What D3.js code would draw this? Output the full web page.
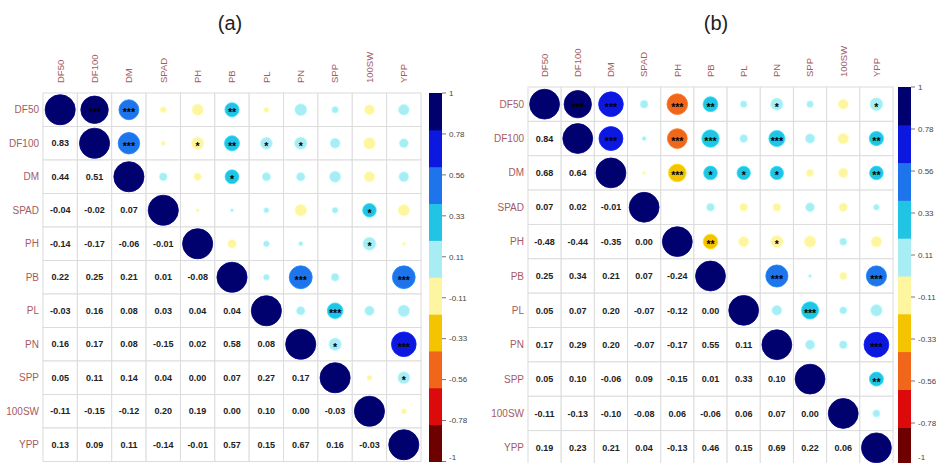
<!DOCTYPE html>
<html><head><meta charset="utf-8">
<script src="https://cdn.jsdelivr.net/npm/d3@7"></script>
<style>body{margin:0;background:#fff}svg{display:block}text{font-family:"Liberation Sans",Arial,sans-serif}</style>
</head><body><svg id="c" width="936" height="463"></svg>
<script>
const vars = ["DF50","DF100","DM","SPAD","PH","PB","PL","PN","SPP","100SW","YPP"];
// lower-triangle correlation coefficients (row i, columns 0..i-1)
const lowerA = [
  [],
  [0.83],
  [0.44,0.51],
  [-0.04,-0.02,0.07],
  [-0.14,-0.17,-0.06,-0.01],
  [0.22,0.25,0.21,0.01,-0.08],
  [-0.03,0.16,0.08,0.03,0.04,0.04],
  [0.16,0.17,0.08,-0.15,0.02,0.58,0.08],
  [0.05,0.11,0.14,0.04,0.00,0.07,0.27,0.17],
  [-0.11,-0.15,-0.12,0.20,0.19,0.00,0.10,0.00,-0.03],
  [0.13,0.09,0.11,-0.14,-0.01,0.57,0.15,0.67,0.16,-0.03]
];
const lowerB = [
  [],
  [0.84],
  [0.68,0.64],
  [0.07,0.02,-0.01],
  [-0.48,-0.44,-0.35,0.00],
  [0.25,0.34,0.21,0.07,-0.24],
  [0.05,0.07,0.20,-0.07,-0.12,0.00],
  [0.17,0.29,0.20,-0.07,-0.17,0.55,0.11],
  [0.05,0.10,-0.06,0.09,-0.15,0.01,0.33,0.10],
  [-0.11,-0.13,-0.10,-0.08,0.06,-0.06,0.06,0.07,0.00],
  [0.19,0.23,0.21,0.04,-0.13,0.46,0.15,0.69,0.22,0.06]
];
// significance stars in the upper triangle (row i, columns i+1..10)
const starsA = [
  [3,3,0,0,2,0,0,0,0,0],
  [3,0,1,2,1,1,0,0,0],
  [0,0,1,0,0,0,0,0],
  [0,0,0,0,0,1,0],
  [0,0,0,0,1,0],
  [0,3,0,0,3],
  [0,3,0,0],
  [1,0,3],
  [0,1],
  [0]
];
const starsB = [
  [3,3,0,3,2,0,1,0,0,1],
  [3,0,3,3,0,3,0,0,2],
  [0,3,1,1,1,0,0,2],
  [0,0,0,0,0,0,0],
  [2,0,1,0,0,0],
  [0,3,0,0,3],
  [0,3,0,0],
  [0,0,3],
  [0,2],
  [0]
];
const legendTicks = ["1","0.78","0.56","0.33","0.11","-0.11","-0.33","-0.56","-0.78","-1"];
const bandColors = ["#6e0000","#dc0a0a","#f0661a","#f5c400","#fdf5a0","#a8ecf4","#22c4e4","#1e74ea","#0c18e0","#00006e"];
const titles = ["(a)","(b)"];

const color = d3.scaleThreshold().domain([-0.8,-0.6,-0.4,-0.2,0,0.2,0.4,0.6,0.8]).range(bandColors);
const svg = d3.select("#c");
const labCol = "#a65a5e";

const panels = [
  {lower: lowerA, stars: starsA, x0: 43, y0: 93, w: 378, h: 368.5, bx: 429, tx: 230},
  {lower: lowerB, stars: starsB, x0: 528, y0: 87, w: 365, h: 378, bx: 898, tx: 716}
];

panels.forEach((p, pi) => {
  const g = svg.append("g");
  const x = d3.scaleBand().domain(vars).range([p.x0, p.x0 + p.w]);
  const y = d3.scaleBand().domain(vars).range([p.y0, p.y0 + p.h]);
  const cw = x.bandwidth(), ch = y.bandwidth();
  const rmax = 0.45 * Math.min(cw, ch);
  const rScale = d3.scaleSqrt().domain([0, 1]).range([0, rmax]);

  const cells = [];
  vars.forEach((ri, i) => vars.forEach((cj, j) => {
    let v, type, st = 0;
    if (i === j) { v = 1; type = "circle"; }
    else if (j < i) { v = p.lower[i][j]; type = "num"; }
    else { v = p.lower[j][i]; type = "circle"; st = p.stars[i][j - i - 1]; }
    cells.push({r: ri, c: cj, v, type, st});
  }));

  g.selectAll("rect.cell").data(cells).join("rect")
    .attr("x", d => x(d.c)).attr("y", d => y(d.r))
    .attr("width", cw).attr("height", ch)
    .attr("fill", "#fff").attr("stroke", "#dcdcdc").attr("stroke-width", 1);

  const circ = cells.filter(d => d.type === "circle" && Math.abs(d.v) > 0);
  g.selectAll("circle.c").data(circ).join("circle")
    .attr("cx", d => x(d.c) + cw / 2).attr("cy", d => y(d.r) + ch / 2)
    .attr("r", d => rScale(Math.abs(d.v)))
    .attr("fill", d => color(d.v))
    .attr("stroke", d => d3.color(color(d.v)).brighter(0.4)).attr("stroke-width", 0.8);

  g.selectAll("text.st").data(circ.filter(d => d.st > 0)).join("text")
    .attr("x", d => x(d.c) + cw / 2).attr("y", d => y(d.r) + ch / 2)
    .attr("dy", "0.62em").attr("text-anchor", "middle")
    .attr("font-size", 10.5).attr("font-weight", "bold").attr("fill", "#000")
    .text(d => "*".repeat(d.st));

  g.selectAll("text.num").data(cells.filter(d => d.type === "num")).join("text")
    .attr("x", d => x(d.c) + cw / 2).attr("y", d => y(d.r) + ch / 2)
    .attr("dy", "0.35em").attr("text-anchor", "middle")
    .attr("font-size", 9).attr("font-weight", "bold").attr("fill", "#222")
    .text(d => d.v.toFixed(2));

  g.selectAll("text.rl").data(vars).join("text")
    .attr("x", p.x0 - 4).attr("y", d => y(d) + ch / 2).attr("dy", "0.35em")
    .attr("text-anchor", "end").attr("font-size", 10).attr("fill", labCol)
    .text(d => d);
  g.selectAll("text.cl").data(vars).join("text")
    .attr("transform", d => `translate(${x(d) + cw / 2},${p.y0 - 10}) rotate(-90)`)
    .attr("dy", "0.35em").attr("text-anchor", "start").attr("font-size", 9.5).attr("fill", labCol)
    .text(d => d);

  const ly = d3.scaleLinear().domain([-1, 1]).range([p.y0 + p.h, p.y0]);
  const bands = d3.range(10).map(k => ({lo: -1 + k * 0.2, hi: -1 + (k + 1) * 0.2, col: bandColors[k]}));
  g.selectAll("rect.band").data(bands).join("rect")
    .attr("x", p.bx).attr("width", 13)
    .attr("y", d => ly(d.hi)).attr("height", d => ly(d.lo) - ly(d.hi) + 0.5)
    .attr("fill", d => d.col);
  const tickPos = d3.scaleLinear().domain([0, legendTicks.length - 1]).range([p.y0, p.y0 + p.h]);
  legendTicks.forEach((t, k) => {
    const ty = tickPos(k);
    g.append("line").attr("x1", p.bx + 13).attr("x2", p.bx + 17)
      .attr("y1", ty).attr("y2", ty).attr("stroke", "#555").attr("stroke-width", 0.8);
    g.append("text").attr("x", p.bx + 20).attr("y", Math.min(ty, 457)).attr("dy", "0.35em")
      .attr("font-size", 8).attr("fill", "#444").text(t);
  });

  svg.append("text").attr("x", p.tx).attr("y", 30).attr("text-anchor", "middle")
    .attr("font-size", 20).attr("fill", "#222").text(titles[pi]);
});
</script></body></html>
